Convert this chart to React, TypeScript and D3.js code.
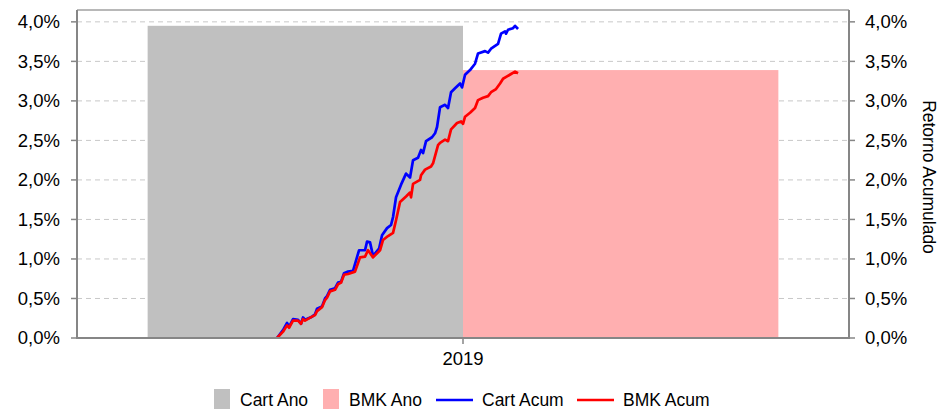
import React from "react";
import * as d3 from "d3";

const categories = ["2019"];
const barSeries = ["Cart Ano", "BMK Ano"];
const barValues = [0.0395, 0.0339];
const barColors = ["#c0c0c0", "#ffafb0"];

const yTicks = [0, 0.005, 0.01, 0.015, 0.02, 0.025, 0.03, 0.035, 0.04];

// cumulative returns: [day index, value %]
const cartAcum: [number, number][] = [
  [0, 0.0], [6, 0.1], [10, 0.19], [12, 0.14], [16, 0.24], [21, 0.23], [24, 0.18], [26, 0.26],
  [28, 0.23], [35, 0.27], [38, 0.3], [40, 0.37], [45, 0.4], [48, 0.5], [50, 0.53], [53, 0.61],
  [58, 0.63], [61, 0.7], [64, 0.71], [67, 0.82], [71, 0.84], [76, 0.85], [82, 1.11], [88, 1.11],
  [90, 1.22], [93, 1.21], [96, 1.04], [102, 1.13], [105, 1.3], [110, 1.39], [114, 1.43], [116, 1.53],
  [119, 1.78], [124, 1.94], [129, 2.08], [133, 2.03], [136, 2.25], [141, 2.28], [144, 2.38], [146, 2.34],
  [149, 2.49], [155, 2.54], [158, 2.59], [160, 2.67], [163, 2.92], [168, 2.95], [171, 2.91], [174, 3.11],
  [178, 3.16], [183, 3.22], [185, 3.17], [188, 3.33], [193, 3.39], [198, 3.47], [201, 3.6], [208, 3.63],
  [211, 3.61], [214, 3.66], [221, 3.72], [224, 3.85], [228, 3.88], [229, 3.85], [231, 3.9], [236, 3.92],
  [238, 3.95], [241, 3.91],
];
const bmkAcum: [number, number][] = [
  [0, 0.0], [6, 0.08], [10, 0.16], [12, 0.13], [16, 0.22], [21, 0.22], [24, 0.18], [26, 0.24],
  [28, 0.22], [35, 0.27], [38, 0.29], [40, 0.34], [45, 0.39], [48, 0.48], [50, 0.51], [53, 0.59],
  [58, 0.61], [61, 0.68], [64, 0.7], [67, 0.8], [71, 0.81], [78, 0.84], [83, 1.02], [88, 1.03],
  [91, 1.11], [96, 1.02], [103, 1.11], [106, 1.24], [111, 1.29], [116, 1.33], [119, 1.49], [123, 1.72],
  [129, 1.79], [133, 1.84], [134, 1.78], [136, 1.95], [143, 2.0], [144, 2.06], [148, 2.13], [154, 2.17],
  [156, 2.21], [161, 2.44], [163, 2.47], [168, 2.51], [171, 2.49], [174, 2.64], [180, 2.72], [184, 2.74],
  [186, 2.71], [188, 2.8], [193, 2.85], [198, 2.91], [201, 3.01], [206, 3.04], [211, 3.06], [214, 3.11],
  [219, 3.15], [223, 3.22], [226, 3.28], [230, 3.31], [234, 3.34], [238, 3.37], [241, 3.35],
];
const lineSeries = ["Cart Acum", "BMK Acum"];
const lineColors = ["#0000ff", "#ff0000"];

const W = 944;
const H = 409;
const M = { left: 77, right: 849, top: 10, bottom: 338 };
const FONT = "Arial, 'Liberation Sans', sans-serif";

export default function App() {
  const y = d3.scaleLinear().domain([0, 0.0415]).range([M.bottom, M.top]);
  const x0 = d3.scaleBand().domain(categories).range([M.left, M.right]).paddingOuter(0.112).paddingInner(0);
  const x1 = d3.scaleBand().domain(barSeries).range([0, x0.bandwidth()]).padding(0);
  const plotW = M.right - M.left;
  const xl = d3.scaleLinear().domain([0, 241]).range([M.left + plotW * 0.2591, M.left + plotW * 0.5713]);
  const fmt = (v: number) => (v * 100).toFixed(1).replace(".", ",") + "%";
  const line = d3
    .line<[number, number]>()
    .x((d) => xl(d[0]))
    .y((d) => y(d[1] / 100));
  const lines = [cartAcum, bmkAcum];
  const axisColor = "#868686";

  const legendItems = [
    { label: barSeries[0], type: "rect", color: barColors[0], x: 214 },
    { label: barSeries[1], type: "rect", color: barColors[1], x: 323 },
    { label: lineSeries[0], type: "line", color: lineColors[0], x: 436 },
    { label: lineSeries[1], type: "line", color: lineColors[1], x: 577 },
  ];

  return (
    <svg width={W} height={H} style={{ position: "absolute", left: 0, top: 0 }} fontFamily={FONT}>
      <rect x={0} y={0} width={W} height={H} fill="#fff" />
      {/* grid */}
      {yTicks.slice(1).map((t) => (
        <line key={t} x1={M.left} x2={M.right} y1={y(t)} y2={y(t)} stroke="#c8c8c8" strokeWidth={1} strokeDasharray="5,4" />
      ))}
      {/* bars */}
      {categories.map((c) =>
        barSeries.map((s, i) => (
          <rect
            key={c + s}
            x={(x0(c) ?? 0) + (x1(s) ?? 0)}
            y={y(barValues[i])}
            width={x1.bandwidth()}
            height={y(0) - y(barValues[i])}
            fill={barColors[i]}
          />
        ))
      )}
      {/* lines */}
      {lines.map((d, i) => (
        <path key={i} d={line(d) ?? ""} fill="none" stroke={lineColors[i]} strokeWidth={2.7} strokeLinejoin="round" />
      ))}
      {/* frame */}
      <line x1={M.left} x2={M.right} y1={M.top} y2={M.top} stroke="#a0a0a0" strokeWidth={1.5} />
      <line x1={M.left} x2={M.left} y1={M.top} y2={M.bottom} stroke={axisColor} strokeWidth={2} />
      <line x1={M.right} x2={M.right} y1={M.top} y2={M.bottom} stroke={axisColor} strokeWidth={2} />
      <line x1={M.left - 1} x2={M.right + 1} y1={M.bottom} y2={M.bottom} stroke={axisColor} strokeWidth={2} />
      {/* left axis */}
      {yTicks.map((t) => (
        <g key={"l" + t}>
          <line x1={M.left - 6} x2={M.left} y1={y(t)} y2={y(t)} stroke={axisColor} strokeWidth={1.5} />
          <text x={M.left - 17} y={y(t)} dy="0.35em" textAnchor="end" fontSize={18.5} fill="#000">
            {fmt(t)}
          </text>
        </g>
      ))}
      {/* right axis */}
      {yTicks.map((t) => (
        <g key={"r" + t}>
          <line x1={M.right} x2={M.right + 6} y1={y(t)} y2={y(t)} stroke={axisColor} strokeWidth={1.5} />
          <text x={M.right + 16} y={y(t)} dy="0.35em" textAnchor="start" fontSize={18.5} fill="#000">
            {fmt(t)}
          </text>
        </g>
      ))}
      <text
        transform={`translate(929, 177) rotate(90)`}
        textAnchor="middle"
        dy="0.35em"
        fontSize={17.5}
        fill="#000"
      >
        Retorno Acumulado
      </text>
      {/* x axis */}
      {categories.map((c) => {
        const cx = (x0(c) ?? 0) + x0.bandwidth() / 2;
        return (
          <g key={c}>
            <line x1={cx} x2={cx} y1={M.bottom} y2={M.bottom + 6} stroke={axisColor} strokeWidth={1.5} />
            <text x={cx} y={M.bottom + 27} textAnchor="middle" fontSize={18.5} fill="#000">
              {c}
            </text>
          </g>
        );
      })}
      {/* legend */}
      {legendItems.map((it) => (
        <g key={it.label}>
          {it.type === "rect" ? (
            <rect x={it.x} y={389} width={16} height={20} fill={it.color} />
          ) : (
            <line x1={it.x} x2={it.x + 37} y1={400} y2={400} stroke={it.color} strokeWidth={2.7} />
          )}
          <text x={it.x + (it.type === "rect" ? 26 : 46)} y={400} dy="0.35em" fontSize={17.5} fill="#000">
            {it.label}
          </text>
        </g>
      ))}
    </svg>
  );
}
